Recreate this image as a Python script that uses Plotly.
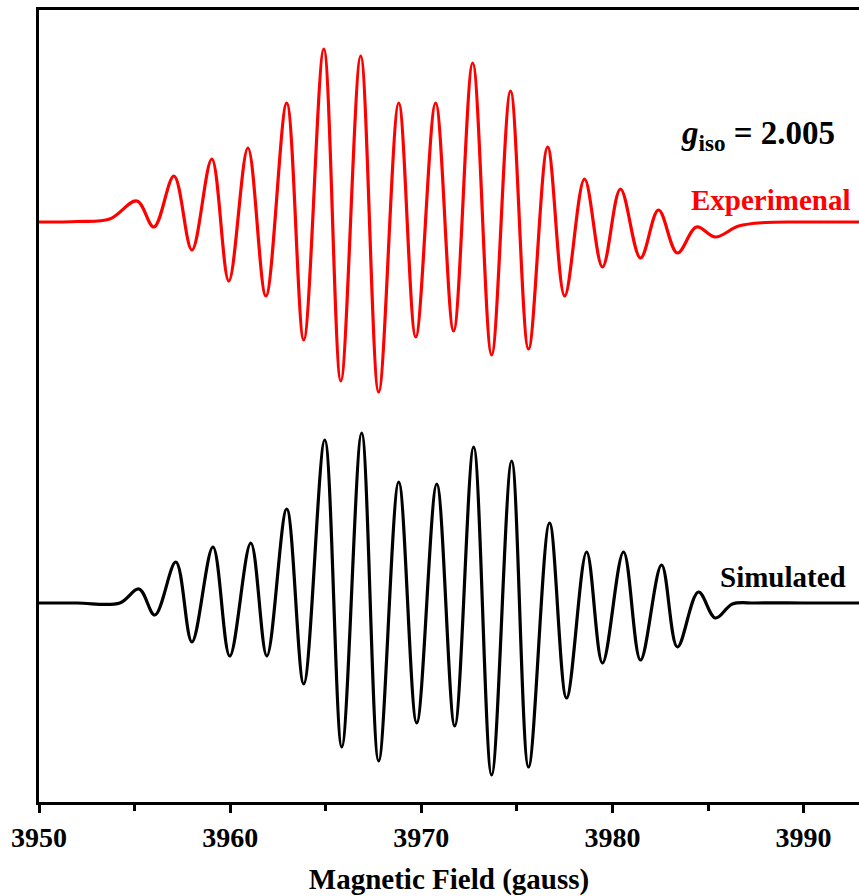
import plotly.graph_objects as go

# Magnetic field (gauss) of the extrema of each trace
exp_field = [3950.0, 3952.0, 3953.7, 3955.12, 3956.01, 3957.06, 3958.00, 3959.04, 3959.93, 3960.93,
             3961.87, 3962.96, 3963.85, 3964.90, 3965.79, 3966.83, 3967.77, 3968.82, 3969.71,
             3970.75, 3971.69, 3972.69, 3973.68, 3974.67, 3975.61, 3976.61, 3977.50, 3978.54,
             3979.48, 3980.42, 3981.47, 3982.41, 3983.40, 3984.40, 3985.39, 3986.6, 3988.0,
             3990.0, 3992.9]
exp_signal = [0, 0.5, 3, 21, -5, 46, -28, 63, -59, 74, -74, 119, -118, 173, -159, 166, -170, 119, -115,
              119, -109, 159, -133, 131, -127, 75, -74, 43, -45, 33, -36, 12, -31, -5, -15, -4, -0.5,
              0, 0]

sim_field = [3950.0, 3952.0, 3954.23, 3955.23, 3956.06, 3957.16, 3958.00, 3959.10, 3959.98, 3961.08,
             3961.92, 3962.96, 3963.85, 3964.95, 3965.84, 3966.88, 3967.77, 3968.82, 3969.76,
             3970.81, 3971.75, 3972.74, 3973.68, 3974.73, 3975.61, 3976.71, 3977.60, 3978.65,
             3979.48, 3980.58, 3981.47, 3982.57, 3983.40, 3984.50, 3985.39, 3986.28, 3987.5,
             3990.0, 3992.9]
sim_signal = [0, 0, 0, 14, -12, 41, -39, 56, -53, 60, -53, 94, -81, 163, -144, 170, -158, 121, -120,
              119, -123, 156, -172, 142, -164, 80, -95, 51, -60, 51, -57, 38, -44, 11, -15, -1, 0,
              0, 0]

x_ticks = [3950, 3960, 3970, 3980, 3990]
EXP_OFFSET = 381

FONT = "Liberation Serif"

fig = go.Figure()
fig.add_trace(go.Scatter(
    x=exp_field, y=[v + EXP_OFFSET for v in exp_signal], mode="lines",
    line=dict(color="#ff0000", width=3.2, shape="spline", smoothing=1.0),
    showlegend=False, hoverinfo="skip"))
fig.add_trace(go.Scatter(
    x=sim_field, y=sim_signal, mode="lines",
    line=dict(color="#000000", width=3.2, shape="spline", smoothing=1.0),
    showlegend=False, hoverinfo="skip"))

fig.add_annotation(x=3987.6, y=468, xref="x", yref="y", showarrow=False,
                   text="<b><i>g</i><sub>iso</sub> = 2.005</b>",
                   font=dict(family=FONT, size=33, color="black"))
fig.add_annotation(x=3988.3, y=403, xref="x", yref="y", showarrow=False,
                   text="<b>Experimenal</b>",
                   font=dict(family=FONT, size=29, color="#ff0000"))
fig.add_annotation(x=3988.9, y=26, xref="x", yref="y", showarrow=False,
                   text="<b>Simulated</b>",
                   font=dict(family=FONT, size=29, color="black"))

fig.update_layout(
    width=859, height=896,
    margin=dict(l=39, r=0, t=10, b=94),
    plot_bgcolor="white", paper_bgcolor="white",
    font=dict(family=FONT, color="black"),
    xaxis=dict(
        range=[3950, 3992.9],
        tickmode="array", tickvals=x_ticks, ticktext=["<b>%d</b>" % v for v in x_ticks],
        ticks="outside", ticklen=8, tickwidth=3, tickcolor="black",
        minor=dict(dtick=5, tick0=3950, ticks="outside", ticklen=6, tickwidth=3, tickcolor="black"),
        showline=True, linewidth=3, linecolor="black", mirror=True,
        showgrid=False, zeroline=False,
        tickfont=dict(family=FONT, size=28, color="black"),
        title=dict(text="<b>Magnetic Field (gauss)</b>",
                   font=dict(family=FONT, size=29, color="black"), standoff=18),
    ),
    yaxis=dict(
        range=[-199, 593],
        showline=True, linewidth=3, linecolor="black", mirror=False,
        showticklabels=False, ticks="", showgrid=False, zeroline=False,
    ),
)

fig.write_html("out.html")
